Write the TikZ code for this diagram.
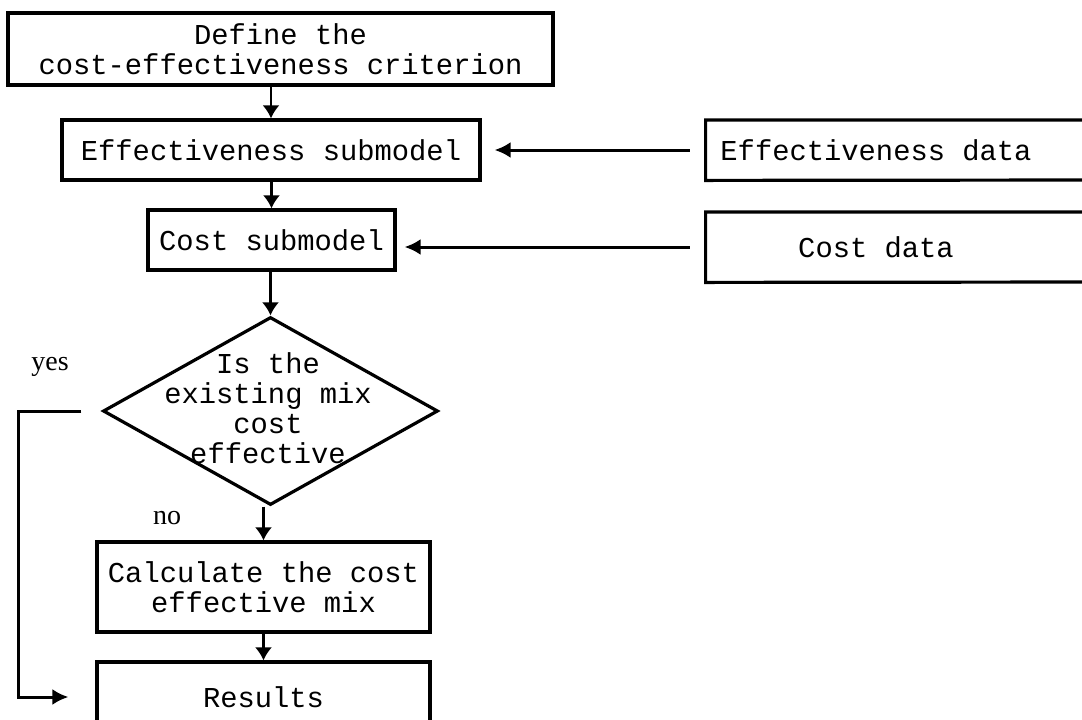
\documentclass[tikz,border=0pt]{standalone}
\usepackage{fontspec}
\setmonofont{Liberation Mono}
\setmainfont{Liberation Serif}
\usetikzlibrary{arrows.meta,shapes.geometric}

\begin{document}
\begin{tikzpicture}
  [x=0.5pt,y=-0.5pt,
   every node/.style={font=\ttfamily\fontsize{14.4}{15}\selectfont},
   box/.style={draw,line width=1.6pt,rectangle,inner sep=0pt,align=center},
   datatext/.style={rectangle,inner sep=0pt,minimum width=170pt,minimum height=30pt},
   arr/.style={line width=1.1pt,-{Latex[length=6.5pt,width=8.5pt]}},
   feed/.style={line width=1.5pt,-{Latex[length=8pt,width=8pt]}},
   answer/.style={font=\rmfamily\fontsize{14}{15}\selectfont}]
  \useasboundingbox (0,0) rectangle (1082,719);
  \clip (0,0) rectangle (1082,719);

  \node[box,minimum width=272.5pt,minimum height=36pt] (crit) at (280.5,49) {Define the\\cost-effectiveness criterion};
  \node[box,minimum width=209pt,minimum height=30pt] (effsub) at (271,150) {Effectiveness submodel};
  \node[box,minimum width=123.5pt,minimum height=30pt] (costsub) at (271.5,240) {Cost submodel};
  \node[diamond,draw,line width=1.6pt,inner sep=0pt,minimum width=167.5pt,minimum height=94pt] (dec) at (270.5,411) {};
  \node[align=center] (dectext) at (268,408) {Is the\\existing mix\\cost\\effective};
  \node[box,minimum width=166.5pt,minimum height=45pt] (calc) at (263.5,587) {Calculate the cost\\effective mix};
  \node[box,minimum width=166.5pt,minimum height=35pt] (results) at (263.5,697) {Results};

  \node[datatext] (effdata) at (876,150) {Effectiveness data};
  \node[datatext,minimum height=35pt] (costdata) at (876,247) {Cost data};
  \draw[line width=1.6pt] (1100,120) -| (effdata.south west) -- (1100,180);
  \draw[line width=1.6pt] (1100,212) -| (costdata.south west) -- (1100,282);

  \node[answer] (yes) at (50,367) {yes};
  \node[answer] (no) at (167,518) {no};

  \foreach \from/\to in {crit/effsub,effsub/costsub,costsub/dec,dec/calc,calc/results}
    \draw[arr] (\from.south -| \to.north) -- (\to.north);

  \draw[feed,shorten <=8pt,shorten >=6.5pt] (effdata.west) -- (effdata.west -| effsub.east);
  \draw[feed,shorten <=8pt,shorten >=4pt] (costdata.west) -- (costdata.west -| costsub.east);
  \draw[feed,shorten <=10pt,shorten >=13.5pt] (dec.west) -- ++(-83,0) |- (results.west);

\end{tikzpicture}
\end{document}
